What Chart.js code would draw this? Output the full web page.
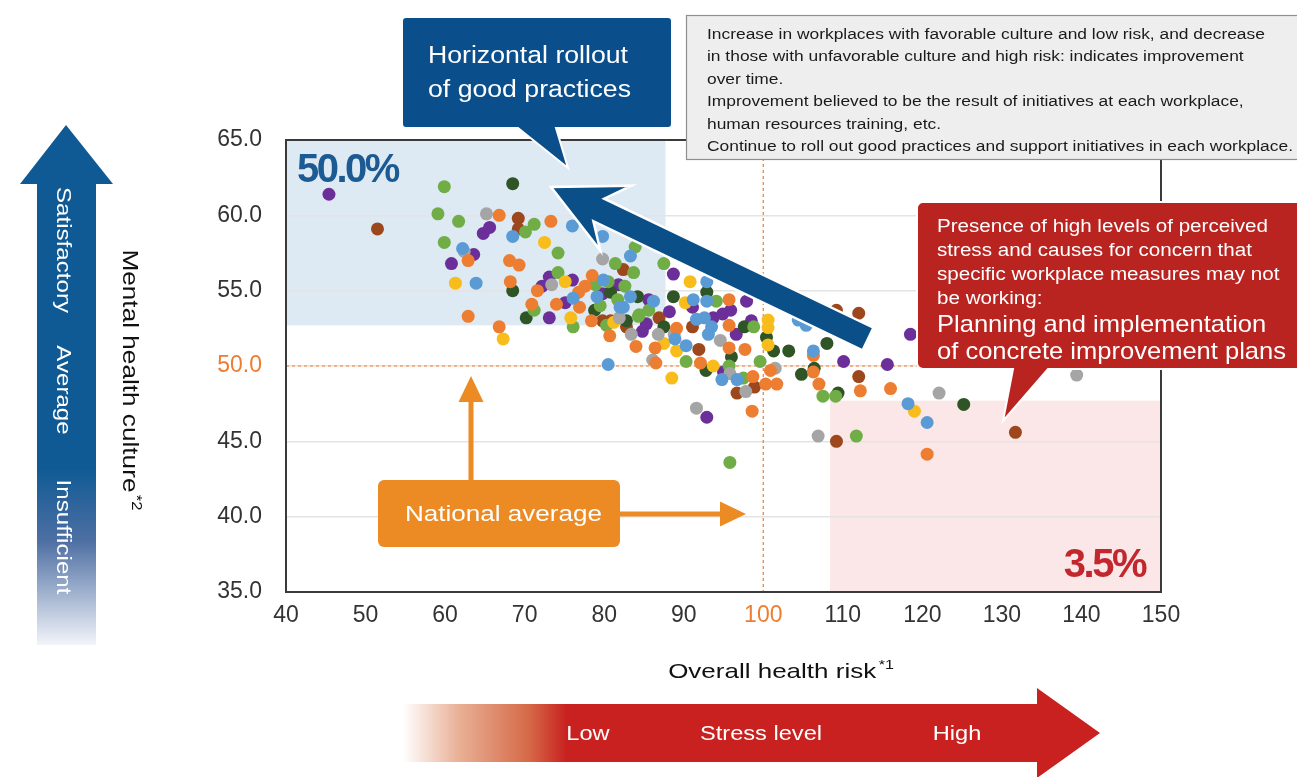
<!DOCTYPE html>
<html>
<head>
<meta charset="utf-8">
<script src="https://cdn.jsdelivr.net/npm/chart.js@4.4.1/dist/chart.umd.min.js"></script>
<style>
  html, body { margin: 0; padding: 0; background: #fff; }
  #wrap { position: relative; width: 1297px; height: 777px; }
</style>
</head>
<body>
<div id="wrap"><canvas id="chart" width="1297" height="777"></canvas></div>
<script>
(function() {
  'use strict';

  // axis ticks
  const riskTicks = [40, 50, 60, 70, 80, 90, 100, 110, 120, 130, 140, 150];
  const cultureTicks = [35, 40, 45, 50, 55, 60, 65];

  // national average (reference lines)
  const avgRisk = 100;
  const avgCulture = 50;

  // shaded zones, in data units
  const goodZone = [40, 87.7, 52.7, 65];    // risk from, risk to, culture from, culture to
  const badZone = [108.4, 150, 35, 47.7];
  const goodShare = '50.0%';
  const badShare = '3.5%';

  // workplaces: [overall health risk, mental health culture]
  const bluePts = [[76.0,59.3],[68.5,58.6],[62.2,57.8],[79.8,58.6],[83.3,57.3],[63.9,55.5],[79.1,54.6],[83.3,54.6],
    [86.2,54.3],[80.5,50.1],[92.9,55.6],[92.9,54.3],[92.6,53.2],[93.1,52.1],[90.3,51.35],[94.8,49.1],[106.3,51.0],
    [105.4,52.7],[118.2,47.5],[120.6,46.25],[82.4,53.9],[91.2,54.4],[79.9,55.7],[91.6,53.1],[93.5,52.6],[82.0,53.9],
    [88.9,51.8],[96.7,49.1],[104.4,53.05],[76.1,54.5]];
  const orangePts = [[66.8,60.0],[73.3,59.6],[62.9,57.0],[68.1,57.0],[69.3,56.7],[68.2,55.6],[62.9,53.3],[66.8,52.6],
    [78.5,56.0],[77.6,55.3],[76.8,54.9],[71.6,55.0],[70.9,54.1],[74.0,54.1],[76.9,53.9],[78.4,53.0],[80.7,52.0],
    [84.0,51.3],[86.4,51.2],[95.7,54.4],[95.7,52.7],[97.7,51.1],[92.1,50.2],[98.7,49.3],[100.3,48.8],[101.7,48.8],
    [98.6,47.0],[100.9,49.7],[106.3,50.7],[107.0,48.8],[112.2,48.35],[116.0,48.5],[120.6,44.15],[89.1,52.5],
    [95.7,51.2],[106.3,49.6],[86.5,50.2]];
  const grayPts = [[65.2,60.1],[62.4,57.6],[79.8,57.1],[73.4,55.4],[81.9,53.2],[86.8,52.1],[88.8,52.1],[86.1,50.4],
    [94.6,51.7],[95.8,49.5],[97.8,48.3],[91.6,47.2],[101.5,49.85],[122.1,48.2],[106.9,45.35],[83.4,52.1],[139.4,49.4]];
  const yellowPts = [[72.5,58.2],[61.3,55.5],[67.3,51.8],[75.1,55.6],[75.8,53.2],[81.2,52.9],[87.5,51.5],[89.1,51.0],
    [90.8,55.6],[88.5,49.2],[93.7,50.0],[100.6,53.05],[100.6,52.55],[100.6,51.4],[119.0,47.0],[90.2,54.2]];
  const greenPts = [[59.9,61.9],[59.1,60.1],[61.7,59.6],[70.1,58.9],[71.2,59.4],[59.9,58.2],[74.2,57.5],[83.9,57.9],
    [81.4,56.8],[83.7,56.2],[87.5,56.8],[74.2,56.2],[78.9,55.4],[80.5,55.6],[82.6,55.3],[81.7,54.4],[71.2,53.7],
    [76.1,52.6],[80.3,52.7],[84.4,53.4],[98.8,52.6],[90.3,50.3],[97.5,49.2],[99.6,50.3],[107.5,48.0],[109.1,48.0],
    [111.7,45.35],[95.8,43.6],[84.3,53.3],[79.5,54.0],[85.6,53.7],[94.1,54.3],[95.7,50.0]];
  const darkGreenPts = [[68.5,62.1],[68.5,55.0],[80.8,54.9],[84.2,54.6],[88.7,54.6],[70.2,53.2],[78.8,53.7],[82.8,53.0],
    [87.5,52.6],[92.9,54.9],[97.6,52.6],[96.0,50.6],[92.8,49.7],[100.4,51.9],[101.3,51.0],[103.2,51.0],[104.8,49.45],
    [106.4,49.85],[108.0,51.5],[109.4,48.2],[125.2,47.45]];
  const purplePts = [[45.4,61.4],[64.8,58.8],[65.6,59.2],[63.6,57.4],[60.8,56.8],[88.7,56.1],[73.1,55.9],[72.2,55.3],
    [76.0,55.7],[79.8,54.8],[81.8,55.4],[85.6,54.4],[73.1,53.2],[75.1,54.2],[85.3,52.8],[84.8,52.3],[88.2,53.6],
    [97.9,54.3],[93.7,53.2],[94.9,53.45],[95.9,53.7],[98.5,53.0],[96.6,52.1],[95.0,49.6],[92.9,46.6],[110.1,50.3],
    [115.6,50.1],[118.5,52.1],[91.1,53.9]];
  const brownPts = [[51.5,59.1],[69.2,59.8],[69.2,59.1],[82.4,56.4],[79.8,53.0],[80.8,53.0],[82.8,52.6],[86.9,53.2],
    [91.9,51.1],[96.7,48.2],[98.9,48.6],[112.0,49.3],[112.0,53.5],[109.2,53.7],[109.2,45.0],[91.1,52.6],[131.7,45.6]];

  const FONT = '"Liberation Sans", Arial, Helvetica, sans-serif';
  const ORANGE = '#ED7D31';

  function toPoints(arr) {
    return arr.map(p => ({ x: p[0], y: p[1] }));
  }

  function series(label, pts, color) {
    return {
      label: label,
      data: toPoints(pts),
      backgroundColor: color,
      borderWidth: 0,
      pointRadius: 6.5,
      pointHoverRadius: 6.5
    };
  }

  function roundRectPath(ctx, x0, y0, x1, y1, r) {
    ctx.beginPath();
    ctx.moveTo(x0 + r, y0);
    ctx.arcTo(x1, y0, x1, y1, r);
    ctx.arcTo(x1, y1, x0, y1, r);
    ctx.arcTo(x0, y1, x0, y0, r);
    ctx.arcTo(x0, y0, x1, y0, r);
    ctx.closePath();
  }

  function polygon(ctx, pts) {
    ctx.beginPath();
    ctx.moveTo(pts[0][0], pts[0][1]);
    for (let i = 1; i < pts.length; i++) ctx.lineTo(pts[i][0], pts[i][1]);
    ctx.closePath();
  }

  // horizontal stretch factor so that `text` at `size` spans `width`
  function stretchFor(ctx, text, size, width) {
    ctx.font = size + 'px ' + FONT;
    return width / ctx.measureText(text).width;
  }

  // draw text stretched by sx; (x, y) is the anchor for the given align
  function wideText(ctx, text, x, y, size, sx, align, angle) {
    ctx.save();
    ctx.font = size + 'px ' + FONT;
    ctx.translate(x, y);
    ctx.rotate(angle || 0);
    ctx.scale(sx, 1);
    ctx.textAlign = align || 'left';
    ctx.fillText(text, 0, 0);
    ctx.restore();
  }

  // text with a small raised suffix, centred on (cx, cy), optionally rotated
  function supText(ctx, main, sup, cx, cy, size, sx, angle) {
    ctx.save();
    ctx.translate(cx, cy);
    ctx.rotate(angle || 0);
    ctx.scale(sx, 1);
    ctx.fillStyle = '#111';
    ctx.textBaseline = 'middle';
    ctx.textAlign = 'left';
    ctx.font = size + 'px ' + FONT;
    const w1 = ctx.measureText(main).width;
    ctx.font = Math.round(size * 0.62) + 'px ' + FONT;
    const w2 = ctx.measureText(sup).width;
    const start = -(w1 + w2 + 2) / 2;
    ctx.font = size + 'px ' + FONT;
    ctx.fillText(main, start, 0);
    ctx.font = Math.round(size * 0.62) + 'px ' + FONT;
    ctx.fillText(sup, start + w1 + 2, -size * 0.32);
    ctx.restore();
  }

  const overlay = {
    id: 'overlay',
    beforeDraw(chart) {
      const { ctx, scales: { x, y } } = chart;
      ctx.save();
      ctx.fillStyle = '#DDE9F3';
      let l = x.getPixelForValue(goodZone[0]), r = x.getPixelForValue(goodZone[1]);
      let b = y.getPixelForValue(goodZone[2]), t = y.getPixelForValue(goodZone[3]);
      ctx.fillRect(l, t, r - l, b - t);
      ctx.fillStyle = '#FBE7E7';
      l = x.getPixelForValue(badZone[0]); r = x.getPixelForValue(badZone[1]);
      b = y.getPixelForValue(badZone[2]); t = y.getPixelForValue(badZone[3]);
      ctx.fillRect(l, t, r - l, b - t);
      ctx.restore();
    },
    beforeDatasetsDraw(chart) {
      const { ctx, chartArea: a, scales: { x, y } } = chart;
      ctx.save();
      ctx.strokeStyle = ORANGE;
      ctx.lineWidth = 1.2;
      ctx.setLineDash([3, 3]);
      const py = y.getPixelForValue(avgCulture);
      const px = x.getPixelForValue(avgRisk);
      ctx.beginPath();
      ctx.moveTo(a.left, py); ctx.lineTo(a.right, py);
      ctx.moveTo(px, a.top); ctx.lineTo(px, a.bottom);
      ctx.stroke();
      ctx.restore();
    },
    afterDatasetsDraw(chart) {
      const { ctx, chartArea: a, scales: { x, y } } = chart;
      ctx.save();

      // plot frame
      ctx.strokeStyle = '#3a3a3a';
      ctx.lineWidth = 2;
      ctx.strokeRect(a.left, a.top, a.right - a.left, a.bottom - a.top);

      // zone shares
      ctx.font = 'bold 40px ' + FONT;
      ctx.letterSpacing = '-2.5px';
      ctx.textBaseline = 'alphabetic';
      ctx.fillStyle = '#1B5A92';
      ctx.textAlign = 'left';
      ctx.fillText(goodShare, x.getPixelForValue(goodZone[0]) + 11, y.getPixelForValue(goodZone[3]) + 42);
      ctx.fillStyle = '#C1272D';
      ctx.textAlign = 'right';
      ctx.fillText(badShare, x.getPixelForValue(badZone[1]) - 16, y.getPixelForValue(badZone[2]) - 15);
      ctx.letterSpacing = '0px';

      // big "horizontal rollout" arrow
      const tip = [551, 187], tail = [868, 339];
      const dx = tail[0] - tip[0], dy = tail[1] - tip[1];
      const len = Math.hypot(dx, dy);
      const u = [dx / len, dy / len], n = [-u[1], u[0]];
      const at = (s, p) => [tip[0] + u[0] * s + n[0] * p, tip[1] + u[1] * s + n[1] * p];
      polygon(ctx, [tip, at(72, 36), at(53, 12.5), at(len, 12.5), at(len, -12.5), at(53, -12.5), at(72, -36)]);
      ctx.fillStyle = '#0B4F88';
      ctx.fill();
      ctx.strokeStyle = '#fff';
      ctx.lineWidth = 2.5;
      ctx.setLineDash([]);
      ctx.stroke();

      // national average label and arrows
      ctx.fillStyle = '#EC8A24';
      ctx.fillRect(468.5, 400, 5, 81);
      polygon(ctx, [[458.5, 402], [483.5, 402], [471, 376]]);
      ctx.fill();
      ctx.fillRect(619, 511.5, 103, 5);
      polygon(ctx, [[720, 501.5], [720, 526.5], [746, 514]]);
      ctx.fill();
      roundRectPath(ctx, 378, 480, 620, 547, 6);
      ctx.fill();
      ctx.fillStyle = '#fff';
      ctx.textBaseline = 'middle';
      wideText(ctx, 'National average', 503.5, 515, 22, stretchFor(ctx, 'National average', 22, 197), 'center');

      // grey note box
      ctx.fillStyle = '#EEEEEE';
      ctx.fillRect(686, 15, 620, 145);
      ctx.strokeStyle = '#8f8f8f';
      ctx.lineWidth = 1.2;
      ctx.strokeRect(686.5, 15.5, 620, 144);
      ctx.fillStyle = '#1a1a1a';
      ctx.textBaseline = 'alphabetic';
      const notes = [
        'Increase in workplaces with favorable culture and low risk, and decrease',
        'in those with unfavorable culture and high risk: indicates improvement',
        'over time.',
        'Improvement believed to be the result of initiatives at each workplace,',
        'human resources training, etc.',
        'Continue to roll out good practices and support initiatives in each workplace.'
      ];
      const noteSx = stretchFor(ctx, notes[5], 15.5, 586);
      notes.forEach((s, i) => wideText(ctx, s, 707, 39 + i * 22.4, 15.5, noteSx, 'left'));

      // blue callout
      ctx.beginPath();
      ctx.moveTo(406, 17);
      ctx.arcTo(672, 17, 672, 128, 4);
      ctx.arcTo(672, 128, 402, 128, 4);
      ctx.lineTo(556, 128);
      ctx.lineTo(568, 168);
      ctx.lineTo(518, 128);
      ctx.arcTo(402, 128, 402, 17, 4);
      ctx.arcTo(402, 17, 672, 17, 4);
      ctx.closePath();
      ctx.fillStyle = '#0A4F8C';
      ctx.fill();
      ctx.strokeStyle = '#fff';
      ctx.lineWidth = 2;
      ctx.stroke();
      ctx.fillStyle = '#fff';
      const blueSx = stretchFor(ctx, 'Horizontal rollout', 23, 200);
      wideText(ctx, 'Horizontal rollout', 428, 63, 23, blueSx, 'left');
      wideText(ctx, 'of good practices', 428, 97, 23, blueSx, 'left');

      // red callout
      ctx.beginPath();
      ctx.moveTo(923, 202);
      ctx.lineTo(1302, 202);
      ctx.lineTo(1302, 369);
      ctx.lineTo(1048, 369);
      ctx.lineTo(1003, 421);
      ctx.lineTo(1013, 369);
      ctx.arcTo(917, 369, 917, 202, 6);
      ctx.arcTo(917, 202, 1302, 202, 6);
      ctx.closePath();
      ctx.fillStyle = '#B92420';
      ctx.fill();
      ctx.strokeStyle = '#fff';
      ctx.lineWidth = 2;
      ctx.stroke();
      ctx.fillStyle = '#fff';
      const small = ['Presence of high levels of perceived', 'stress and causes for concern that',
        'specific workplace measures may not', 'be working:'];
      const smallSx = stretchFor(ctx, small[0], 18, 331);
      small.forEach((s, i) => wideText(ctx, s, 937, 232 + i * 24, 18, smallSx, 'left'));
      const bigSx = stretchFor(ctx, 'of concrete improvement plans', 24, 349);
      wideText(ctx, 'Planning and implementation', 937, 332, 24, bigSx, 'left');
      wideText(ctx, 'of concrete improvement plans', 937, 359, 24, bigSx, 'left');

      // vertical culture arrow
      const g = ctx.createLinearGradient(0, 125, 0, 645);
      g.addColorStop(0, '#0F5A94');
      g.addColorStop(0.66, '#0F5A94');
      g.addColorStop(0.8, '#4E6FA3');
      g.addColorStop(1, '#F2F4F9');
      polygon(ctx, [[66, 125], [113, 184], [96, 184], [96, 645], [37, 645], [37, 184], [20, 184]]);
      ctx.fillStyle = g;
      ctx.fill();
      ctx.fillStyle = '#fff';
      ctx.textBaseline = 'middle';
      const sideSx = stretchFor(ctx, 'Satisfactory', 21, 126);
      [['Satisfactory', 250], ['Average', 390], ['Insufficient', 537]].forEach(([s, cy]) => {
        wideText(ctx, s, 63, cy, 21, sideSx, 'center', Math.PI / 2);
      });

      // horizontal stress arrow
      const h = ctx.createLinearGradient(403, 0, 1100, 0);
      h.addColorStop(0, 'rgba(255,255,255,1)');
      h.addColorStop(0.08, '#E9B096');
      h.addColorStop(0.18, '#D66A48');
      h.addColorStop(0.235, '#C8211F');
      h.addColorStop(1, '#C8211F');
      polygon(ctx, [[403, 704], [1037, 704], [1037, 688], [1100, 733], [1037, 778], [1037, 762], [403, 762]]);
      ctx.fillStyle = h;
      ctx.fill();
      ctx.fillStyle = '#fff';
      const stressSx = stretchFor(ctx, 'Stress level', 21, 122);
      wideText(ctx, 'Low', 588, 734, 21, stressSx, 'center');
      wideText(ctx, 'Stress level', 761, 734, 21, stressSx, 'center');
      wideText(ctx, 'High', 957, 734, 21, stressSx, 'center');

      // axis titles
      supText(ctx, 'Mental health culture', '*2', 129, 380, 22, stretchFor(ctx, 'Mental health culture', 22, 243), Math.PI / 2);
      supText(ctx, 'Overall health risk', '*1', 781, 672, 21, stretchFor(ctx, 'Overall health risk', 21, 208), 0);

      ctx.restore();
    }
  };

  new Chart(document.getElementById('chart').getContext('2d'), {
    type: 'scatter',
    data: {
      datasets: [
        series('Blue', bluePts, '#5B9BD5'),
        series('Orange', orangePts, '#ED7D31'),
        series('Gray', grayPts, '#A5A5A5'),
        series('Yellow', yellowPts, '#F8BC1B'),
        series('Green', greenPts, '#70AD47'),
        series('Dark green', darkGreenPts, '#2F5527'),
        series('Purple', purplePts, '#6C2F99'),
        series('Brown', brownPts, '#9C471C')
      ]
    },
    options: {
      responsive: false,
      animation: false,
      events: [],
      layout: { padding: { left: 0, top: 140, right: 136, bottom: 0 } },
      plugins: { legend: { display: false }, tooltip: { enabled: false } },
      scales: {
        x: {
          type: 'linear',
          min: riskTicks[0],
          max: riskTicks[riskTicks.length - 1],
          afterBuildTicks: s => { s.ticks = riskTicks.map(v => ({ value: v })); },
          afterFit: s => { s.height = 185; },
          grid: { display: false, drawTicks: false },
          border: { display: false },
          ticks: {
            padding: 10,
            font: { family: FONT, size: 23 },
            color: c => c.tick.value === avgRisk ? ORANGE : '#333',
            callback: v => String(v)
          }
        },
        y: {
          type: 'linear',
          min: cultureTicks[0],
          max: cultureTicks[cultureTicks.length - 1],
          afterBuildTicks: s => { s.ticks = cultureTicks.map(v => ({ value: v })); },
          afterFit: s => { s.width = 286; },
          grid: { color: '#e4e4e4', lineWidth: 1.5, drawTicks: false },
          border: { display: false },
          ticks: {
            padding: 24,
            font: { family: FONT, size: 23 },
            color: c => c.tick.value === avgCulture ? ORANGE : '#333',
            callback: v => Number(v).toFixed(1)
          }
        }
      }
    },
    plugins: [overlay]
  });
})();
</script>
</body>
</html>
